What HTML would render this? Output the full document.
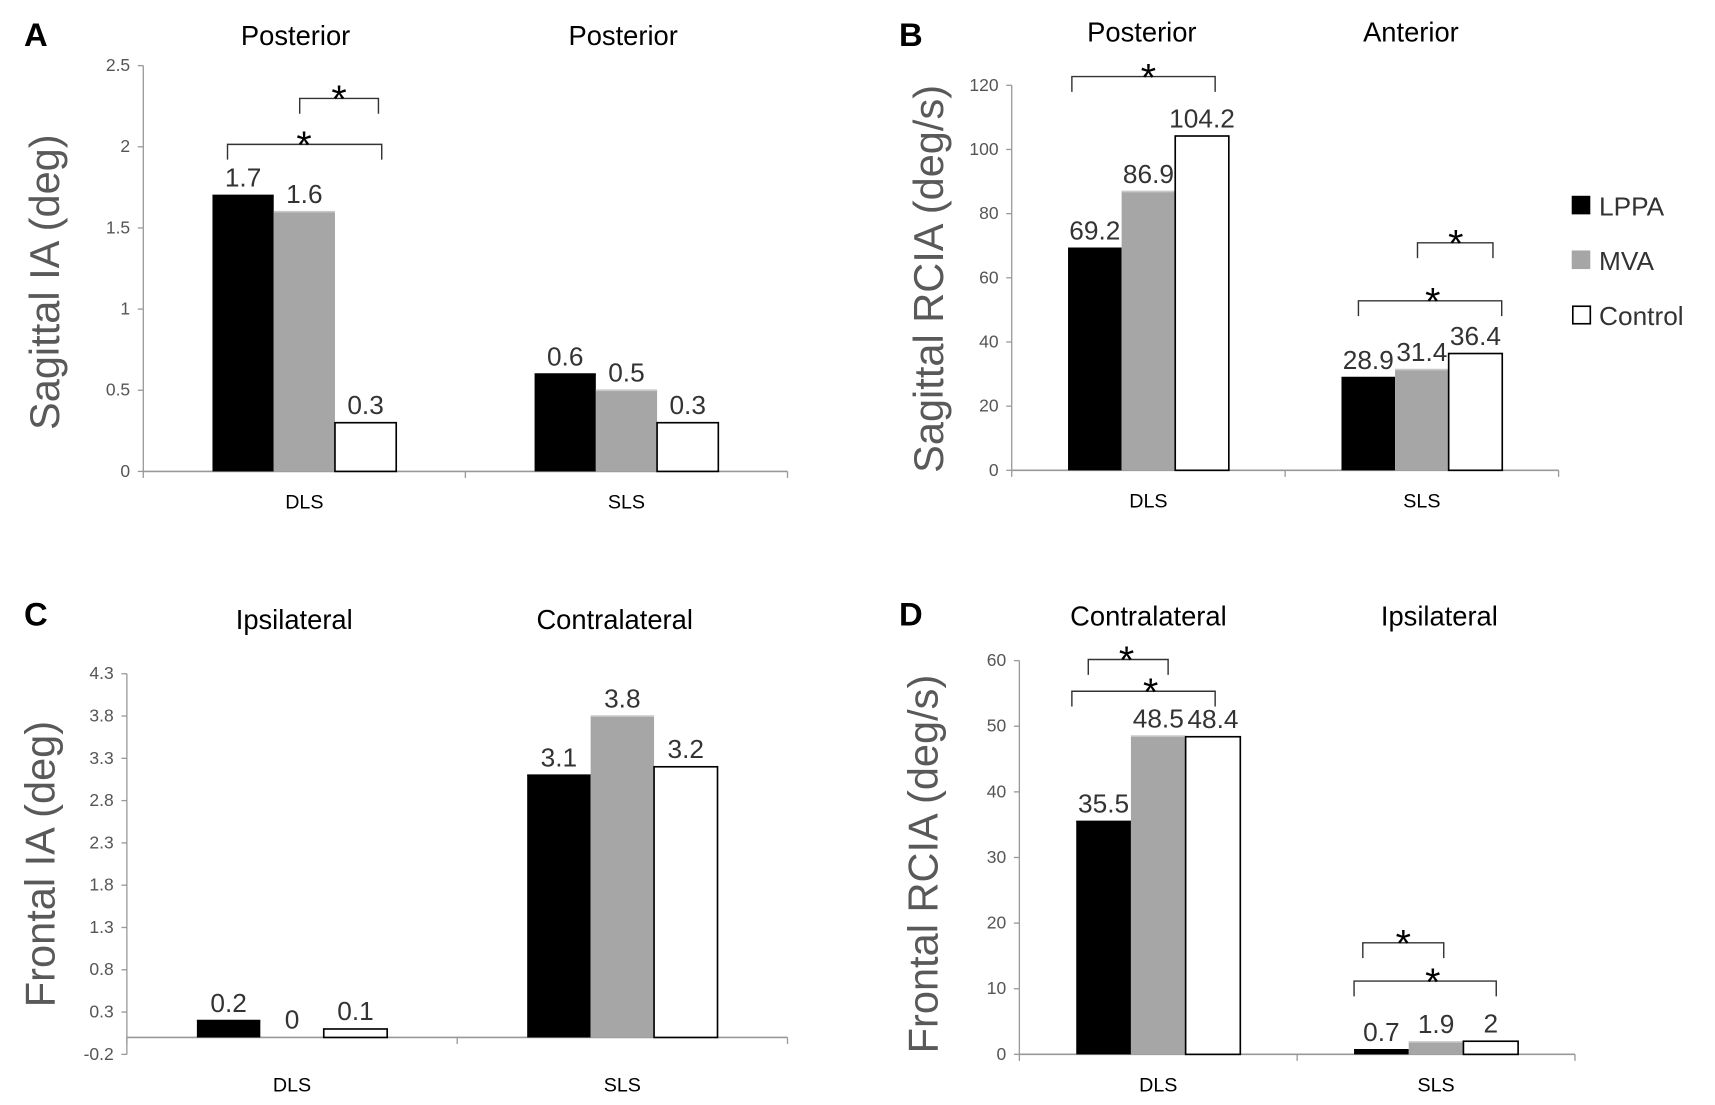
<!DOCTYPE html>
<html><head><meta charset="utf-8">
<style>
html,body{margin:0;padding:0;background:#fff;}
svg{display:block;font-family:"Liberation Sans",sans-serif;}
</style></head>
<body>
<svg id="fig" width="1715" height="1105" viewBox="0 0 1568 1010.3" xmlns="http://www.w3.org/2000/svg">
<g font-weight="bold" font-size="30" fill="#000">
<text x="22" y="42">A</text>
<text x="822" y="42">B</text>
<text x="22" y="572">C</text>
<text x="822" y="572">D</text>
</g>
<g font-size="24" fill="#333">
<rect x="1437" y="179" width="17" height="17" fill="#000"/>
<text x="1462" y="197">LPPA</text>
<rect x="1437" y="229" width="17" height="17" fill="#a6a6a6"/>
<text x="1462" y="247">MVA</text>
<rect x="1438" y="280" width="16" height="16" fill="#fff" stroke="#000" stroke-width="1.5"/>
<text x="1462" y="297">Control</text>
</g>
</svg>
<script>
// ---- data ----
const categories = ["DLS", "SLS"];
const seriesNames = ["LPPA", "MVA", "Control"];
const aLPPA = [1.7, 0.6], aMVA = [1.6, 0.5], aControl = [0.3, 0.3];
const aTicks = [0, 0.5, 1, 1.5, 2, 2.5];
const aTickLabels = ["0", "0.5", "1", "1.5", "2", "2.5"];
const aHeaders = ["Posterior", "Posterior"];
const bLPPA = [69.2, 28.9], bMVA = [86.9, 31.4], bControl = [104.2, 36.4];
const bTicks = [0, 20, 40, 60, 80, 100, 120];
const bTickLabels = ["0", "20", "40", "60", "80", "100", "120"];
const bHeaders = ["Posterior", "Anterior"];
const cLPPA = [0.2, 3.1], cMVA = [0, 3.8], cControl = [0.1, 3.2];
const cTicks = [-0.2, 0.3, 0.8, 1.3, 1.8, 2.3, 2.8, 3.3, 3.8, 4.3];
const cTickLabels = ["-0.2", "0.3", "0.8", "1.3", "1.8", "2.3", "2.8", "3.3", "3.8", "4.3"];
const cHeaders = ["Ipsilateral", "Contralateral"];
const dLPPA = [35.5, 0.7], dMVA = [48.5, 1.9], dControl = [48.4, 2];
const dTicks = [0, 10, 20, 30, 40, 50, 60];
const dTickLabels = ["0", "10", "20", "30", "40", "50", "60"];
const dHeaders = ["Contralateral", "Ipsilateral"];

const NS = "http://www.w3.org/2000/svg";
const svg = document.getElementById("fig");
function mk(tag, attrs, parent) {
  const e = document.createElementNS(NS, tag);
  for (const k in attrs) e.setAttribute(k, attrs[k]);
  (parent || svg).appendChild(e);
  return e;
}
const fills = ["#000", "#a6a6a6", "#fff"];

function panel(p) {
  const g = mk("g", {});
  
  
  const y = v => p.y0 - (v - p.ymin) / (p.ymax - p.ymin) * (p.y0 - p.y1);
  const catW = (p.x1 - p.x0) / categories.length;
  const xc = i => p.x0 + catW * (i + 0.5);
  const base = y(Math.max(0, p.ymin));
  const ya = mk("line", {x1: p.x0, y1: p.y0, x2: p.x0, y2: p.y1, stroke: "#999", "stroke-width": 1.2}, g);
  
  
  p.ticks.forEach((t, i) => {
    mk("line", {x1: p.x0 - 5, y1: y(t), x2: p.x0, y2: y(t), stroke: "#999", "stroke-width": 1.2}, g);
    const tl = mk("text", {x: p.x0 - 12, y: y(t) + 5, "text-anchor": "end", "font-size": 16, fill: "#555"}, g);
    tl.textContent = p.tickLabels[i];
    
    
  });
  const xa = mk("line", {x1: p.x0, y1: base, x2: p.x1, y2: base, stroke: "#999", "stroke-width": 1.5}, g);
  
  
  for (let i = 0; i <= categories.length; i++) {
    const tx = p.x0 + catW * i;
    mk("line", {x1: tx, y1: base, x2: tx, y2: base + 6, stroke: "#999", "stroke-width": 1.2}, g);
  }
  const series = [p.s0, p.s1, p.s2];
  categories.forEach((c, i) => {
    const cl = mk("text", {x: xc(i), y: p.y0 + 34, "text-anchor": "middle", "font-size": 18, fill: "#000"}, g);
    cl.textContent = c;
    
    
    const hd = mk("text", {x: xc(i) + p.hdx[i], y: p.hy, "text-anchor": "middle", "font-size": 25, fill: "#000"}, g);
    hd.textContent = p.headers[i];
    
    
    series.forEach((s, k) => {
      const v = s[i];
      const bx = xc(i) - 1.5 * p.bw + k * p.bw;
      const top = y(v);
      const r = mk("rect", {x: bx, y: Math.min(top, base), width: p.bw, height: Math.abs(base - top),
        fill: fills[k], stroke: k === 2 ? "#000" : "none", "stroke-width": 1.5}, g);
      
      
      if (k < 2 && v > 0) mk("line", {x1: bx, y1: top, x2: bx + p.bw, y2: top, stroke: k === 0 ? "#000" : "#c8c8c8", "stroke-width": 1.5}, g);
      const vl = mk("text", {x: bx + p.bw / 2, y: top - 8, "text-anchor": "middle", "font-size": 24, fill: "#333"}, g);
      vl.textContent = String(v);
      
      
    });
  });
  const at = mk("text", {x: 0, y: 0, "text-anchor": "middle", "font-size": 38, fill: "#595959",
    transform: "translate(" + p.tx + "," + p.ty + ") rotate(-90)"}, g);
  at.textContent = p.title;
  
  
  (p.brackets || []).forEach(b => {
    const pl = mk("polyline", {points: b[0] + "," + (b[2] + 14) + " " + b[0] + "," + b[2] + " " + b[1] + "," + b[2] + " " + b[1] + "," + (b[2] + 14),
      fill: "none", stroke: "#333", "stroke-width": 1.3}, g);
    
    
    const st = mk("text", {x: b[3], y: b[2] + 13, "text-anchor": "middle", "font-size": 36, fill: "#000"}, g);
    st.textContent = "*";
    
    
  });
}

panel({id: "a", x0: 131, x1: 720, y0: 431, y1: 60, ymin: 0, ymax: 2.5, bw: 56,
  s0: aLPPA, s1: aMVA, s2: aControl, ticks: aTicks, tickLabels: aTickLabels, headers: aHeaders, hdx: [-8, -3], hy: 41,
  title: "Sagittal IA (deg)", tx: 54, ty: 258,
  brackets: [[208, 349, 132, 278], [274, 346, 90, 310]]});
panel({id: "b", x0: 925, x1: 1425, y0: 430, y1: 78, ymin: 0, ymax: 120, bw: 49,
  s0: bLPPA, s1: bMVA, s2: bControl, ticks: bTicks, tickLabels: bTickLabels, headers: bHeaders, hdx: [-6, -10], hy: 38,
  title: "Sagittal RCIA (deg/s)", tx: 862, ty: 255,
  brackets: [[980, 1111, 70, 1050], [1296, 1365, 222, 1331], [1242, 1373, 275, 1310]]});
panel({id: "c", x0: 116, x1: 720, y0: 964, y1: 616, ymin: -0.2, ymax: 4.3, bw: 58,
  s0: cLPPA, s1: cMVA, s2: cControl, ticks: cTicks, tickLabels: cTickLabels, headers: cHeaders, hdx: [2, -7], hy: 575,
  title: "Frontal IA (deg)", tx: 50, ty: 790, brackets: []});
panel({id: "d", x0: 932, x1: 1440, y0: 964, y1: 604, ymin: 0, ymax: 60, bw: 50,
  s0: dLPPA, s1: dMVA, s2: dControl, ticks: dTicks, tickLabels: dTickLabels, headers: dHeaders, hdx: [-9, 3], hy: 572,
  title: "Frontal RCIA (deg/s)", tx: 857, ty: 790,
  brackets: [[995, 1068, 603, 1030], [980, 1111, 632, 1052], [1246, 1320, 862, 1283], [1238, 1368, 897, 1310]]});
</script>
</body></html>
